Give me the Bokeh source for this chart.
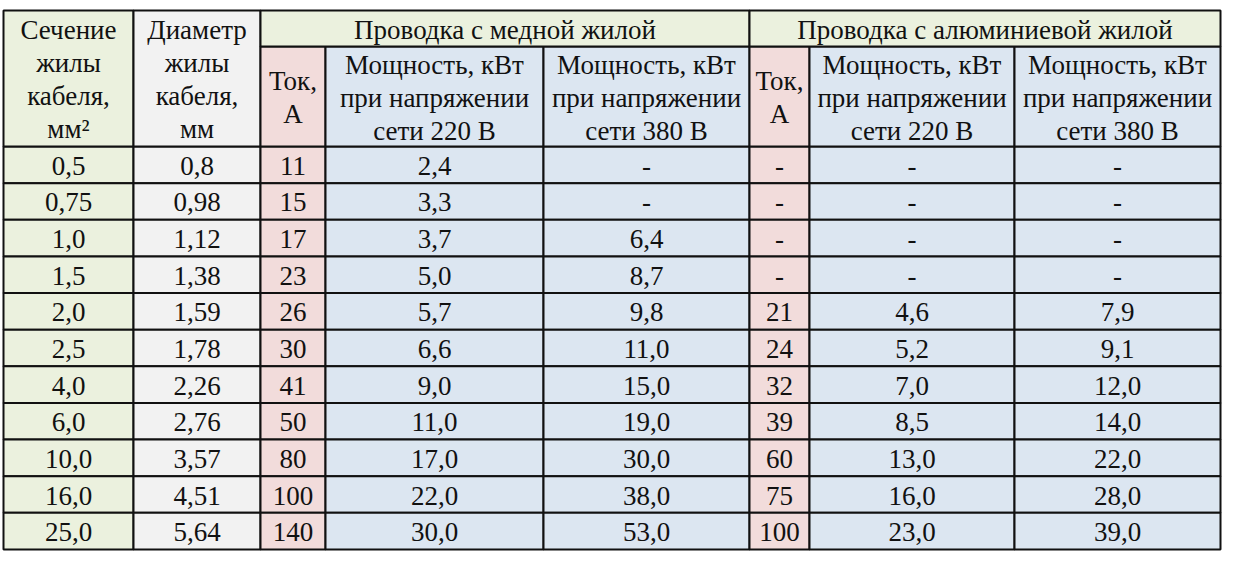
from bokeh.plotting import figure
from bokeh.models import Range1d, ColumnDataSource
from bokeh.core.properties import value
from bokeh.embed import file_html
from bokeh.resources import INLINE

# ---- data ----
sections = ["0,5", "0,75", "1,0", "1,5", "2,0", "2,5", "4,0", "6,0", "10,0", "16,0", "25,0"]
diameters = ["0,8", "0,98", "1,12", "1,38", "1,59", "1,78", "2,26", "2,76", "3,57", "4,51", "5,64"]
cu_current = ["11", "15", "17", "23", "26", "30", "41", "50", "80", "100", "140"]
cu_power_220 = ["2,4", "3,3", "3,7", "5,0", "5,7", "6,6", "9,0", "11,0", "17,0", "22,0", "30,0"]
cu_power_380 = ["-", "-", "6,4", "8,7", "9,8", "11,0", "15,0", "19,0", "30,0", "38,0", "53,0"]
al_current = ["-", "-", "-", "-", "21", "24", "32", "39", "60", "75", "100"]
al_power_220 = ["-", "-", "-", "-", "4,6", "5,2", "7,0", "8,5", "13,0", "16,0", "23,0"]
al_power_380 = ["-", "-", "-", "-", "7,9", "9,1", "12,0", "14,0", "22,0", "28,0", "39,0"]

group_titles = ["Проводка с медной жилой", "Проводка с алюминиевой жилой"]
col_titles = ["Сечение\nжилы\nкабеля,\nмм²", "Диаметр\nжилы\nкабеля,\nмм",
              "Ток,\nА", "Мощность, кВт\nпри напряжении\nсети 220 В", "Мощность, кВт\nпри напряжении\nсети 380 В",
              "Ток,\nА", "Мощность, кВт\nпри напряжении\nсети 220 В", "Мощность, кВт\nпри напряжении\nсети 380 В"]

# ---- layout ----
W, H = 1229, 553
col_edges = [3, 133, 260, 325, 543, 749, 809, 1014, 1220]
top, mid, head_bot, bottom = 10, 46, 146, 549
GREEN, GREY, PINK, BLUE = "#EBF1DE", "#F2F2F2", "#F2DCDB", "#DCE6F1"
col_colors = [GREEN, GREY, PINK, BLUE, BLUE, PINK, BLUE, BLUE]
FONT = value("Liberation Serif")
FS = "27px"

p = figure(width=W, height=H, output_backend="svg", toolbar_location=None,
           x_range=Range1d(0, W), y_range=Range1d(H, 0), min_border=0)
p.axis.visible = False
p.grid.visible = False
p.outline_line_color = None
p.background_fill_color = "white"

columns = [sections, diameters, cu_current, cu_power_220, cu_power_380,
           al_current, al_power_220, al_power_380]
nrows = len(sections)
rh = (bottom - head_bot) / nrows

# data cells
L, R, T, B, C, X, Y, TX = [], [], [], [], [], [], [], []
for ci, col in enumerate(columns):
    for ri, v in enumerate(col):
        l, r = col_edges[ci], col_edges[ci + 1]
        t = head_bot + ri * rh
        L.append(l); R.append(r); T.append(t); B.append(t + rh)
        C.append(col_colors[ci]); X.append((l + r) / 2); Y.append(t + rh / 2 + 1); TX.append(v)

# header cells
hL, hR, hT, hB, hC, hX, hY, hTX = [], [], [], [], [], [], [], []
for ci in range(8):
    l, r = col_edges[ci], col_edges[ci + 1]
    t = top if ci < 2 else mid
    hL.append(l); hR.append(r); hT.append(t); hB.append(head_bot)
    hC.append(col_colors[ci]); hX.append((l + r) / 2); hY.append((t + head_bot) / 2 + 1); hTX.append(col_titles[ci])
for gi, title in enumerate(group_titles):
    l, r = col_edges[2 + 3 * gi], col_edges[5 + 3 * gi]
    hL.append(l); hR.append(r); hT.append(top); hB.append(mid)
    hC.append(GREEN); hX.append((l + r) / 2); hY.append((top + mid) / 2 + 1); hTX.append(title)

src = ColumnDataSource(dict(left=L + hL, right=R + hR, top=T + hT, bottom=B + hB, color=C + hC))
p.quad(left="left", right="right", top="top", bottom="bottom", source=src,
       fill_color="color", line_color="#111111", line_width=2)

p.text(x=X, y=Y, text=TX, text_font=FONT, text_font_size=FS, text_color="#111111",
       text_align="center", text_baseline="middle")
p.text(x=hX, y=hY, text=hTX, text_font=FONT, text_font_size=FS, text_color="#111111",
       text_align="center", text_baseline="middle", text_line_height=1.1)

open("out.html", "w").write(file_html(p, INLINE))
